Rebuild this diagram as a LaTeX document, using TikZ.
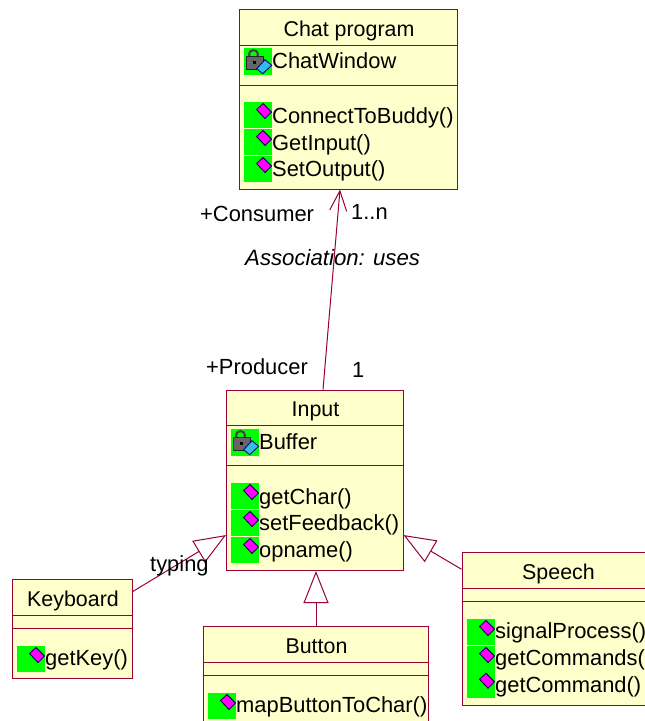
\documentclass[tikz,border=0pt]{standalone}
\usepackage{fontspec}
\setmainfont{Liberation Sans}
\usetikzlibrary{arrows.meta}
\definecolor{roseline}{HTML}{990033}
\definecolor{rosefill}{HTML}{FFFFCC}
\definecolor{icongreen}{HTML}{00FF00}
\definecolor{iconpink}{HTML}{FF00FF}
\definecolor{iconblue}{HTML}{33BBEE}
\tikzset{
  classbox/.style={draw=roseline,fill=rosefill,line width=1pt,rectangle,inner sep=0pt},
  classline/.style={draw=roseline,line width=.8pt},
  umltext/.style={inner sep=0pt,anchor=base west,font=\fontsize{21.9}{24}\selectfont,text=black},
  umltitle/.style={umltext,anchor=base,font=\fontsize{21.4}{24}\selectfont},
  assoc/.style={draw=roseline,line width=1pt,-{Straight Barb[length=20pt,width=17pt]}},
  inherit/.style={draw=roseline,line width=1pt,-{Triangle[open,length=32pt,width=25pt]}}
}
\newcommand{\opmark}[2]{%
  \begin{scope}[shift={(#1,#2)}]
    \fill[icongreen] (0,0) rectangle (28,26);
    \filldraw[fill=iconpink,draw=black!70!blue,line width=.8pt] (12.5,7.5) -- (19,1.5) -- (27.5,10) -- (21,16.5) -- cycle;
  \end{scope}}
\newcommand{\attrmark}[2]{%
  \begin{scope}[shift={(#1,#2)}]
    \fill[icongreen] (0,0) rectangle (28,27);
    \draw[black!75,line width=2pt] (9.5,6.5) circle (4.5);
    \filldraw[fill=black!60,draw=black!85,line width=1pt] (2,8) rectangle (19,21);
    \fill[black] (8.5,13) rectangle (12,15.5);
    \filldraw[fill=iconblue,draw=black!60!blue,line width=.8pt] (12.7,20.7) -- (21,11.7) -- (27.7,17.3) -- (18.7,25.7) -- cycle;
  \end{scope}}
\begin{document}
\begin{tikzpicture}[x=1pt,y=-1pt]
  \clip (0,0) rectangle (645,721);
  % boxes
  \node [classbox,minimum width=218pt,minimum height=180pt] (chat) at (348.5,99) {};
  \node [classbox,minimum width=176.5pt,minimum height=180.5pt] (input) at (314.8,480.3) {};
  \node [classbox,minimum width=120pt,minimum height=98.5pt] (keyboard) at (72,628.9) {};
  \node [classbox,minimum width=225pt,minimum height=130pt] (button) at (316,691.7) {};
  \node [classbox,minimum width=200pt,minimum height=152.5pt] (speech) at (562,629) {};
  % compartments
  \draw [classline] ([yshift=-36.7pt]chat.north west) -- ([yshift=-36.7pt]chat.north east);
  \draw [classline] ([yshift=-77pt]chat.north west) -- ([yshift=-77pt]chat.north east);
  \draw [classline] ([yshift=-36pt]input.north west) -- ([yshift=-36pt]input.north east);
  \draw [classline] ([yshift=-76pt]input.north west) -- ([yshift=-76pt]input.north east);
  \draw [classline] ([yshift=-36pt]keyboard.north west) -- ([yshift=-36pt]keyboard.north east);
  \draw [classline] ([yshift=-49.3pt]keyboard.north west) -- ([yshift=-49.3pt]keyboard.north east);
  \draw [classline] ([yshift=-36pt]button.north west) -- ([yshift=-36pt]button.north east);
  \draw [classline] ([yshift=-49.3pt]button.north west) -- ([yshift=-49.3pt]button.north east);
  \draw [classline] ([yshift=-36.3pt]speech.north west) -- ([yshift=-36.3pt]speech.north east);
  \draw [classline] ([yshift=-49.3pt]speech.north west) -- ([yshift=-49.3pt]speech.north east);
  % connectors
  \draw [assoc] ([xshift=8.2pt]input.north) -- ([xshift=-8.5pt]chat.south);
  \draw [inherit] ([yshift=-12.5pt]keyboard.north east) -- ([yshift=36pt]input.south west);
  \draw [inherit] (button.north) -- ([xshift=1.2pt]input.south);
  \draw [inherit] ([yshift=-17pt]speech.north west) -- ([yshift=36pt]input.south east);
  % icons
  \attrmark{244}{48}
  \foreach \y in {102,129,156} {\opmark{244}{\y}}
  \attrmark{231}{429}
  \foreach \y in {483,510,537} {\opmark{231}{\y}}
  \opmark{17}{646}
  \opmark{208}{693}
  \foreach \y in {619,646,671.7} {\opmark{467}{\y}}
  % titles
  \node [umltitle] (chatname) at (349,36) {Chat program};
  \node [umltitle] (inputname) at (315.5,416) {Input};
  \node [umltitle] (keyboardname) at (73,606) {Keyboard};
  \node [umltitle] (buttonname) at (316.5,653) {Button};
  \node [umltitle] (speechname) at (558.5,579) {Speech};
  % members
  \node [umltext] (chatwindow) at (272,68.5) {ChatWindow};
  \node [umltext] (connect) at (272,123.5) {ConnectToBuddy()};
  \node [umltext] (getinput) at (272,150.5) {GetInput()};
  \node [umltext] (setoutput) at (272,176.5) {SetOutput()};
  \node [umltext] (buffer) at (259,449.5) {Buffer};
  \node [umltext] (getchar) at (259,504) {getChar()};
  \node [umltext] (setfeedback) at (259,530.5) {setFeedback()};
  \node [umltext] (opname) at (259,557) {opname()};
  \node [umltext] (getkey) at (45,665.5) {getKey()};
  \node [umltext] (mapbutton) at (236,712.5) {mapButtonToChar()};
  \node [umltext] (signal) at (495,638) {signalProcess()};
  \node [umltext] (getcommands) at (495,665) {getCommands()};
  \node [umltext] (getcommand) at (495,692) {getCommand()};
  % labels
  \node [umltext] (consumer) at (200,221.5) {+Consumer};
  \node [umltext] (many) at (351,219) {1..n};
  \node [umltext,font=\fontsize{22.2}{24}\selectfont\itshape] (uses) at (245,265) {Association: uses};
  \node [umltext] (producer) at (206,374) {+Producer};
  \node [umltext] (one) at (352,377) {1};
  \node [umltext] (typing) at (150,571) {typing};
\end{tikzpicture}
\end{document}
